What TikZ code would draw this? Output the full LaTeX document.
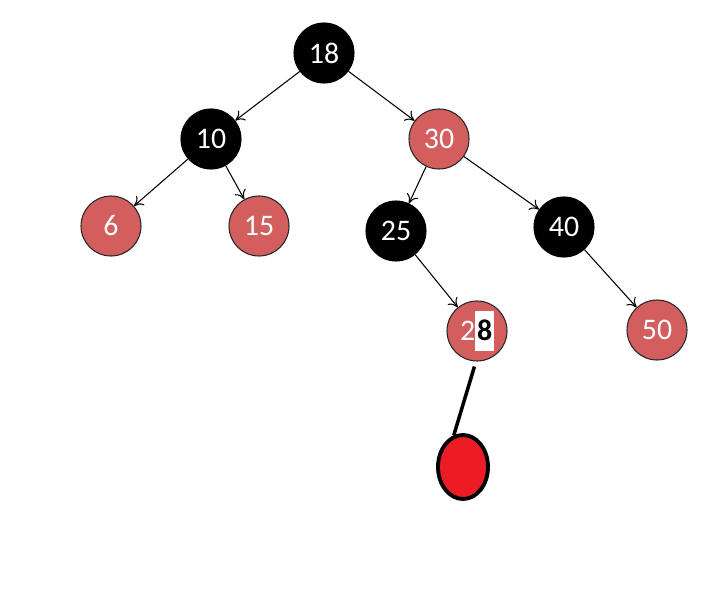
\documentclass[tikz,border=0pt]{standalone}
\usepackage{xcolor}
\usepackage{fontspec}
\setmainfont{Carlito}
\usetikzlibrary{shapes.geometric, arrows.meta, positioning}
\definecolor{rbred}{RGB}{211,94,94}
\definecolor{blobred}{RGB}{237,28,36}
\tikzset{
  rbnode/.style={circle, draw=black!85, line width=0.6pt, minimum size=1.2cm,
                 inner sep=0pt, font=\fontsize{17}{20}\selectfont, text=white},
  rednode/.style={rbnode, fill=rbred},
  blacknode/.style={rbnode, fill=black, draw=black},
  arr/.style={-{To[length=5pt,width=7pt]}, draw=black, line width=0.6pt},
}

\begin{document}
\begin{tikzpicture}
  \useasboundingbox (0,0) rectangle (14.52,-11.78);
  \node[blacknode] (n18) at (6.48,-1.06) {18};
  \node[blacknode] (n10) at (4.22,-2.78) {10};
  \node[rednode]   (n30) at (8.78,-2.78) {30};
  \node[rednode]   (n6)  at (2.22,-4.52) {6};
  \node[rednode]   (n15) at (5.18,-4.52) {15};
  \node[blacknode] (n25) at (7.92,-4.62) {25};
  \node[blacknode] (n40) at (11.28,-4.54) {40};
  \node[rednode]   (n28) at (9.54,-6.62)
    {2\setlength{\fboxsep}{1pt}\colorbox{white}{\rule[-5pt]{0pt}{21pt}\textcolor{black}{\textbf{8}}}};
  \node[rednode]   (n50) at (13.14,-6.60) {50};
  % hand-drawn new node
  \node[ellipse, draw=black, line width=2.2pt, fill=blobred,
        minimum width=1.0cm, minimum height=1.28cm] (blob) at (9.26,-9.34) {};

  \draw[arr] (n18)--(n10); \draw[arr] (n18)--(n30);
  \draw[arr] (n10)--(n6);  \draw[arr] (n10)--(n15);
  \draw[arr] (n30)--(n25); \draw[arr] (n30)--(n40);
  \draw[arr] (n25)--(n28); \draw[arr] (n40)--(n50);
  \draw[line width=2pt, shorten <=3pt] (n28.-92) -- (blob.106);
\end{tikzpicture}
\end{document}
